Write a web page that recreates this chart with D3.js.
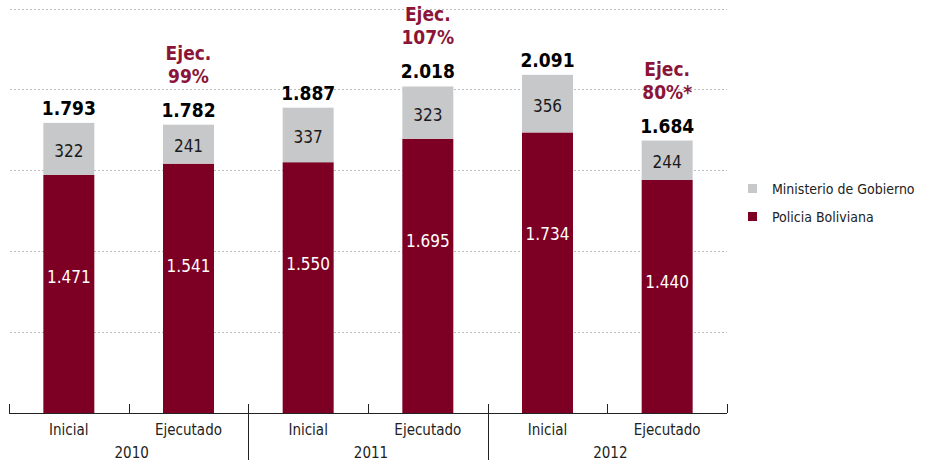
<!DOCTYPE html>
<html>
<head>
<meta charset="utf-8">
<script src="https://cdn.jsdelivr.net/npm/d3@7"></script>
<style>
  body { margin: 0; background: #fff; }
  svg text { font-family: "DejaVu Sans Condensed", "Liberation Sans Narrow", "Roboto", sans-serif; }
</style>
</head>
<body>
<div id="chart"></div>
<script>
// data
var years = ["2010", "2011", "2012"];
var categories = ["Inicial", "Ejecutado", "Inicial", "Ejecutado", "Inicial", "Ejecutado"];
var policia = [1471, 1541, 1550, 1695, 1734, 1440];
var ministerio = [322, 241, 337, 323, 356, 244];
var totales = [1793, 1782, 1887, 2018, 2091, 1684];
var ejecucion = ["", "99%", "", "107%", "", "80%*"];
var gridValues = [500, 1000, 1500, 2000, 2500];
var seriesNames = ["Ministerio de Gobierno", "Policia Boliviana"];

var width = 925, height = 464;
var red = "#7d0024", gray = "#c7c8ca", ejecColor = "#8a1538";

var svg = d3.select("#chart").append("svg").attr("width", width).attr("height", height);

var rows = categories.map(function (c, i) {
  return { key: i, cat: c, policia: policia[i], ministerio: ministerio[i] };
});

// band scale, ticks sit on the band boundaries
var x = d3.scaleBand().domain(d3.range(categories.length)).range([9, 727]).paddingInner(0.574).paddingOuter(0.287);
var y = d3.scaleLinear().domain([0, 2500]).range([413, 8.5]);

var fmt = d3.formatLocale({ decimal: ",", thousands: ".", grouping: [3], currency: ["", ""] }).format(",d");

// dotted gridlines
svg.append("g").selectAll("line").data(gridValues).enter().append("line")
  .attr("x1", 10).attr("x2", 727)
  .attr("y1", function (d) { return Math.round(y(d)) + 0.5; })
  .attr("y2", function (d) { return Math.round(y(d)) + 0.5; })
  .attr("stroke", "#bdbdbd").attr("stroke-width", 1).attr("stroke-dasharray", "2,2");

// stacked bars
var stack = d3.stack().keys(["policia", "ministerio"]);
var layers = stack(rows);
var colors = { policia: red, ministerio: gray };

svg.append("g").selectAll("g").data(layers).enter().append("g")
  .attr("fill", function (d) { return colors[d.key]; })
  .selectAll("rect").data(function (d) { return d; }).enter().append("rect")
  .attr("x", function (d, i) { return x(i); })
  .attr("width", x.bandwidth())
  .attr("y", function (d) { return y(d[1]); })
  .attr("height", function (d) { return y(d[0]) - y(d[1]); });

// values inside the bars
var cx = function (i) { return x(i) + x.bandwidth() / 2; };
svg.append("g").selectAll("text").data(policia).enter().append("text")
  .attr("x", function (d, i) { return cx(i); })
  .attr("y", function (d) { return y(d) + 108; })
  .attr("text-anchor", "middle").attr("fill", "#fff").style("font-size", "17px")
  .text(function (d) { return fmt(d); });

svg.append("g").selectAll("text").data(ministerio).enter().append("text")
  .attr("x", function (d, i) { return cx(i); })
  .attr("y", function (d, i) { return (y(policia[i]) + y(totales[i])) / 2 + 8; })
  .attr("text-anchor", "middle").attr("fill", "#1a1a1a").style("font-size", "17px")
  .text(function (d) { return d; });

// totals
svg.append("g").selectAll("text").data(totales).enter().append("text")
  .attr("x", function (d, i) { return cx(i); })
  .attr("y", function (d) { return y(d) - 8; })
  .attr("text-anchor", "middle").attr("fill", "#000").style("font-size", "19px").style("font-weight", "bold")
  .text(function (d) { return fmt(d); });

// execution percentages
var ej = svg.append("g").selectAll("text").data(ejecucion).enter().filter(function (d) { return d !== ""; })
  .append("text")
  .attr("text-anchor", "middle").attr("fill", ejecColor).style("font-size", "19px").style("font-weight", "bold");
ej.append("tspan")
  .attr("x", function (d) { return cx(ejecucion.indexOf(d)); })
  .attr("y", function (d) { return y(totales[ejecucion.indexOf(d)]) - 8 - 57; })
  .text("Ejec.");
ej.append("tspan")
  .attr("x", function (d) { return cx(ejecucion.indexOf(d)); })
  .attr("y", function (d) { return y(totales[ejecucion.indexOf(d)]) - 8 - 34; })
  .text(function (d) { return d; });

// x axis
var axis = svg.append("g");
var x0 = x.range()[0], step = x.step();
axis.append("line").attr("x1", x0).attr("x2", x0 + step * categories.length)
  .attr("y1", 413.5).attr("y2", 413.5).attr("stroke", "#222");
axis.selectAll(".tick").data(d3.range(categories.length + 1)).enter().append("line")
  .attr("x1", function (i) { return Math.round(x0 + i * step) + 0.5; })
  .attr("x2", function (i) { return Math.round(x0 + i * step) + 0.5; })
  .attr("y1", 404)
  .attr("y2", function (i) { return (i % 2 === 0 && i > 0 && i < categories.length) ? 460 : 413; })
  .attr("stroke", "#222");

axis.selectAll(".cat").data(categories).enter().append("text")
  .attr("x", function (d, i) { return cx(i); })
  .attr("y", 435).attr("text-anchor", "middle").attr("fill", "#222").style("font-size", "15px")
  .text(function (d) { return d; });

axis.selectAll(".year").data(years).enter().append("text")
  .attr("x", function (d, i) { return x0 + step * (2 * i + 1) + 3; })
  .attr("y", 458).attr("text-anchor", "middle").attr("fill", "#222").style("font-size", "15px")
  .text(function (d) { return d; });

// legend
var legend = svg.append("g").selectAll("g").data(seriesNames).enter().append("g")
  .attr("transform", function (d, i) { return "translate(748," + (184 + i * 28) + ")"; });
legend.append("rect").attr("width", 9).attr("height", 9)
  .attr("fill", function (d, i) { return i === 0 ? gray : red; });
legend.append("text").attr("x", 24).attr("y", 10).attr("fill", "#222").style("font-size", "14px")
  .text(function (d) { return d; });
</script>
</body>
</html>
